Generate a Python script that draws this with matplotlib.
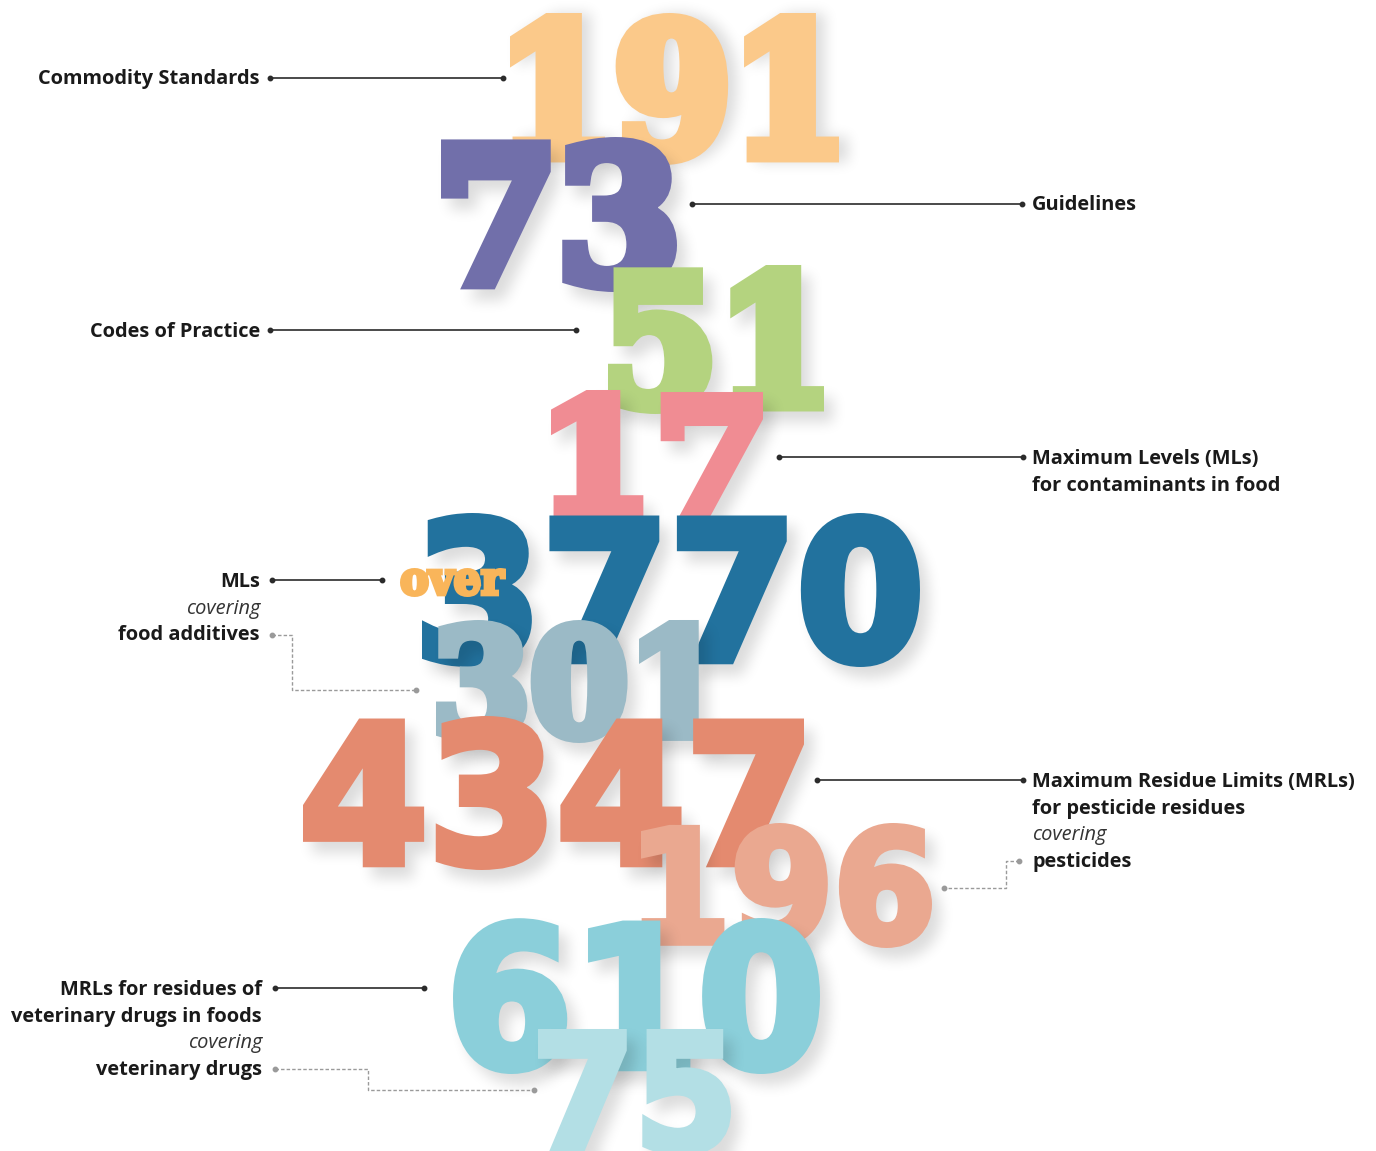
# Infografía: números grandes apilados con etiquetas laterales
import numpy as np
import matplotlib
matplotlib.use("Agg")
import matplotlib.pyplot as plt
from matplotlib.textpath import TextPath
from matplotlib.patches import PathPatch
from matplotlib.font_manager import FontProperties
from matplotlib.transforms import Affine2D

W, H = 1376, 1151

# Datos
numeros = ["191", "73", "51", "17", "3770", "301", "4347", "196", "610", "75"]
colores = ["#FBC98A", "#716FAA", "#B4D37F", "#F08C93", "#22729E",
           "#9BBAC6", "#E48A6F", "#EAA890", "#8BCFDA", "#B3DFE5"]
familias = ["DejaVu Serif", "DejaVu Serif", "DejaVu Serif", "DejaVu Serif",
            "DejaVu Sans", "DejaVu Serif", "DejaVu Sans", "DejaVu Sans",
            "DejaVu Sans", "DejaVu Sans"]

# Cajas de cada número en píxeles (x0, y0, x1, y1)
cajas = [(510, 13, 839, 165), (441, 137, 677, 292), (608, 265, 824, 414),
         (551, 390, 763, 517), (422, 513, 920, 667), (436, 620, 718, 743),
         (303, 716, 804, 870), (641, 823, 932, 948), (453, 918, 820, 1074),
         (538, 1029, 731, 1156)]

etiquetas_izq = [
    (["Commodity Standards"], 79),
    (["Codes of Practice"], 332),
    (["MLs", "*covering", "food additives"], 582),
    (["MRLs for residues of", "veterinary drugs in foods", "*covering",
      "veterinary drugs"], 990),
]
etiquetas_der = [
    (["Guidelines"], 205),
    (["Maximum Levels (MLs)", "for contaminants in food"], 459),
    (["Maximum Residue Limits (MRLs)", "for pesticide residues", "*covering",
      "pesticides"], 782),
]

# Líneas guía: (x0, x1, y)
lineas = [(270, 503, 78), (692, 1022, 204), (270, 576, 330), (779, 1023, 457),
          (272, 382, 580), (817, 1023, 780), (275, 424, 988)]
# Líneas punteadas (lista de puntos)
punteadas = [
    [(272, 635), (292, 635), (292, 690), (416, 690)],
    [(1019, 861), (1006, 861), (1006, 888), (944, 888)],
    [(275, 1069), (368, 1069), (368, 1090), (534, 1090)],
]


def ruta_en_caja(texto, caja, familia, grosor):
    tp = TextPath((0, 0), texto, size=100,
                  prop=FontProperties(family=familia, weight="bold"))
    ext = tp.get_extents()
    x0, y0, x1, y1 = caja
    g = grosor / 2
    sx = (x1 - x0 - grosor) / ext.width
    sy = (y1 - y0 - grosor) / ext.height
    tr = Affine2D().translate(-ext.x0, -ext.y0).scale(sx, -sy).translate(x0 + g, y1 - g)
    return tr.transform_path(tp)


def parche(ruta, color, grosor, z=1):
    return PathPatch(ruta, fc=color, ec=color, lw=grosor * 0.72,
                     joinstyle="miter", zorder=z)


def mascara(ruta, grosor):
    f = plt.figure(figsize=(W / 100, H / 100), dpi=100)
    a = f.add_axes([0, 0, 1, 1])
    a.set_xlim(0, W)
    a.set_ylim(H, 0)
    a.axis("off")
    a.add_patch(parche(ruta, "k", grosor))
    f.canvas.draw()
    m = np.asarray(f.canvas.buffer_rgba())[:, :, 0].astype(np.float32)
    plt.close(f)
    return 1 - m / 255.0


def desenfocar(m, r):
    for _ in range(3):
        for eje in (0, 1):
            p = np.pad(m, [(r + 1, r) if e == eje else (0, 0) for e in (0, 1)], mode="edge")
            c = np.cumsum(p, axis=eje)
            if eje == 0:
                m = (c[2 * r + 1:] - c[:-2 * r - 1]) / (2 * r + 1)
            else:
                m = (c[:, 2 * r + 1:] - c[:, :-2 * r - 1]) / (2 * r + 1)
    return m


fig = plt.figure(figsize=(W / 100, H / 100), dpi=100)
ax = fig.add_axes([0, 0, 1, 1])
ax.set_xlim(0, W)
ax.set_ylim(H, 0)
ax.axis("off")

dx, dy, margen = 9, 11, 45
for i, (num, col, caja, fam) in enumerate(zip(numeros, colores, cajas, familias)):
    alto = caja[3] - caja[1]
    grosor = alto * (0.10 if fam == "DejaVu Serif" else 0.06)
    ruta = ruta_en_caja(num, caja, fam, grosor)
    # sombra difusa
    m = mascara(ruta, grosor)
    x0, y0, x1, y1 = caja
    cx0, cy0 = max(x0 - margen, 0), max(y0 - margen, 0)
    cx1, cy1 = min(x1 + margen + dx, W), min(y1 + margen + dy, H)
    sub = m[max(cy0 - dy, 0):cy1 - dy, max(cx0 - dx, 0):cx1 - dx]
    sub = desenfocar(sub, 6)
    rgba = np.zeros(sub.shape + (4,), dtype=np.float32)
    rgba[..., 3] = np.clip(sub, 0, 1) * 0.14
    ax.imshow(rgba, extent=(cx0, cx0 + sub.shape[1], cy0 + sub.shape[0], cy0),
              zorder=2 * i + 1, interpolation="bilinear", aspect="auto")
    ax.add_patch(parche(ruta, col, grosor, 2 * i + 2))
    if num == "3770":
        g2 = 4
        ax.add_patch(parche(ruta_en_caja("over", (400, 568, 506, 597), "DejaVu Serif", g2),
                            "#F9B55A", g2, 2 * i + 2.5))

ax.set_xlim(0, W)
ax.set_ylim(H, 0)

# Etiquetas
def escribir(lineas_txt, y, x, ha):
    for k, t in enumerate(lineas_txt):
        if t.startswith("*"):
            ax.text(x, y + 26.7 * k, t[1:], ha=ha, va="center", fontsize=14.4,
                    family="Open Sans", style="italic", color="#333333", zorder=50)
        else:
            ax.text(x, y + 26.7 * k, t, ha=ha, va="center", fontsize=14.4,
                    family="Open Sans", weight="bold", color="#1a1a1a", zorder=50)


for txt, y in etiquetas_izq:
    xr = 262 if len(txt) == 4 else 260
    escribir(txt, y, xr, "right")
for txt, y in etiquetas_der:
    escribir(txt, y, 1032, "left")

for x0, x1, y in lineas:
    ax.plot([x0, x1], [y, y], color="#2b2b2b", lw=1.2, zorder=40)
    ax.plot([x0, x1], [y, y], "o", color="#2b2b2b", ms=3.2, zorder=40)

for pts in punteadas:
    xs = [p[0] for p in pts]
    ys = [p[1] for p in pts]
    ax.plot(xs, ys, color="#9a9a9a", lw=1.0, ls=(0, (2.5, 1.5)), zorder=40)
    ax.plot([xs[0], xs[-1]], [ys[0], ys[-1]], "o", color="#9a9a9a", ms=3.2, zorder=40)

fig.savefig("out.png", dpi=100, facecolor="white")
